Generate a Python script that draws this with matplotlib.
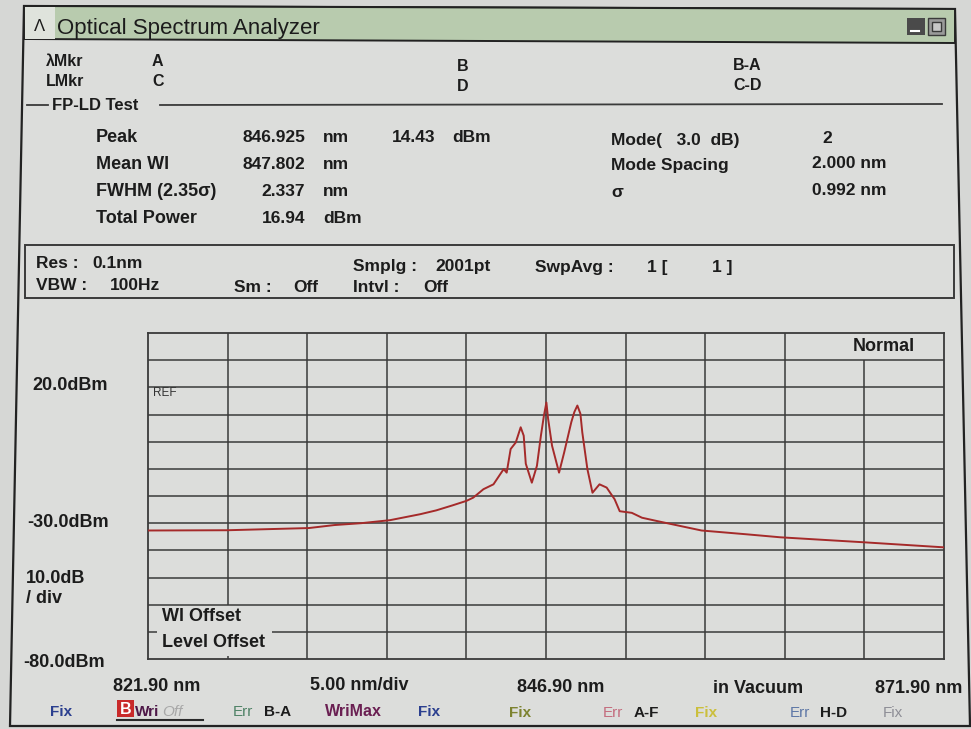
import numpy as np
import matplotlib.pyplot as plt
from matplotlib.patches import Polygon, Rectangle

plt.rcParams['font.family'] = ['Liberation Sans', 'DejaVu Sans']

# trace: wavelength (nm) / level (dBm)
wavelength = [821.9, 826.9, 832.0, 833.6, 835.3, 837.1, 839.0, 840.0, 841.0,
              841.9, 842.33, 842.97, 843.6, 844.24, 844.43, 844.68, 845.0,
              845.31, 845.5, 845.63, 846.01, 846.33, 846.58, 846.77, 846.925,
              847.03, 847.28, 847.72, 848.04, 848.49, 848.68, 848.87, 849.06,
              849.18, 849.5, 849.82, 850.26, 850.71, 851.21, 851.53, 852.29,
              852.93, 853.94, 856.67, 859.5, 861.62, 866.76, 871.9]
power = [-32.7, -32.6, -31.8, -30.7, -30.0, -28.9, -26.7, -25.3, -23.5,
         -21.8, -20.6, -17.5, -15.7, -10.1, -11.4, -2.7, -0.3,
         5.3, 2.2, -8.1, -15.1, -8.9, 2.2, 9.6, 14.43,
         8.5, -1.5, -11.4, -4.0, 7.2, 10.9, 13.3, 10.3,
         3.4, -10.1, -18.8, -15.7, -16.9, -21.2, -25.6, -26.2,
         -28.0, -29.3, -32.7, -34.1, -35.2, -37.0, -38.9]

x_start, x_stop, x_div = 821.9, 871.9, 5.0
y_bottom, y_top, y_div = -80.0, 40.0, 10.0

peak_labels = ["Peak", "Mean Wl", "FWHM (2.35\u03c3)", "Total Power"]
peak_values = ["846.925", "847.802", "2.337", "16.94"]
peak_units = ["nm", "nm", "nm", "dBm"]
mode_labels = ["Mode(   3.0  dB)", "Mode Spacing", "\u03c3"]
mode_values = ["2", "2.000 nm", "0.992 nm"]

BG = '#dcdddb'
INK = '#1c1c1c'
GRID = '#3a3a3a'

fig = plt.figure(figsize=(9.71, 7.29), dpi=100, facecolor='#d6d7d5')
bg = fig.add_axes([0, 0, 1, 1])
bg.set_xlim(0, 971)
bg.set_ylim(729, 0)
bg.axis('off')


def txt(x, y, s, size=13, weight='bold', color=INK, ha='left', **kw):
    bg.text(x, y, s, fontsize=size, fontweight=weight, color=color,
            ha=ha, va='baseline', **kw)


# window frame and title bar
bg.add_patch(Polygon([(24, 6), (955, 9), (970, 726), (10, 726)],
                     closed=True, facecolor=BG, edgecolor='#222222', lw=1.6))
bg.add_patch(Polygon([(24, 6), (955, 9), (955, 43), (24, 39)],
                     closed=True, facecolor='#b8cbae', edgecolor='#222222', lw=1.4))
bg.add_patch(Rectangle((25, 7), 30, 32, facecolor='#dfe3dc', lw=0))
bg.add_patch(Rectangle((907, 18), 18, 17, facecolor='#4a4a4a', lw=0))
bg.plot([911, 919], [31, 31], color='white', lw=1.5)
bg.add_patch(Rectangle((928, 18), 17, 17, facecolor='#9a9a9a', edgecolor='#3a3a3a', lw=1))
bg.add_patch(Rectangle((932, 22), 9, 9, facecolor='#c8c8c8', edgecolor='#3a3a3a', lw=1))
txt(34, 31, "\u039b", size=12, weight='normal')
txt(57, 34, "Optical Spectrum Analyzer", size=16, weight='normal')

# marker rows
txt(46, 66, "\u03bbMkr", size=11.5)
txt(46, 86, "LMkr", size=11.5)
txt(152, 66, "A", size=11.5)
txt(152, 86, "C", size=11.5)
txt(457, 71, "B", size=11.5)
txt(457, 91, "D", size=11.5)
txt(733, 70, "B-A", size=11.5)
txt(733, 90, "C-D", size=11.5)

# FP-LD test block
bg.plot([27, 48], [105, 105], color=GRID, lw=1.3)
bg.plot([160, 942], [105, 104], color=GRID, lw=1.3)
txt(52, 110, "FP-LD Test", size=12)
rows_y = [142, 169, 196, 223]
for yy, lab, val, unit in zip(rows_y, peak_labels, peak_values, peak_units):
    txt(96, yy, lab, size=13)
    txt(305, yy, val, size=12.5, ha='right')
    txt(323, yy, unit, size=12.5)
txt(435, 142, "14.43", size=12.5, ha='right')
txt(452, 142, "dBm", size=12.5)
for yy, lab in zip([145, 170, 197], mode_labels):
    txt(611, yy, lab, size=12.5)
txt(827, 143, mode_values[0], size=12.5, ha='center')
txt(887, 168, mode_values[1], size=12.5, ha='right')
txt(887, 195, mode_values[2], size=12.5, ha='right')

# settings box
bg.add_patch(Rectangle((25, 245), 929, 53, facecolor='none', edgecolor=GRID, lw=1.4))
txt(36, 268, "Res :", size=12.5)
txt(92, 268, "0.1nm", size=12.5)
txt(36, 290, "VBW :", size=12.5)
txt(110, 290, "100Hz", size=12.5)
txt(234, 292, "Sm :", size=12.5)
txt(293, 292, "Off", size=12.5)
txt(353, 271, "Smplg :", size=12.5)
txt(435, 271, "2001pt", size=12.5)
txt(353, 292, "Intvl :", size=12.5)
txt(423, 292, "Off", size=12.5)
txt(535, 272, "SwpAvg :", size=12.5)
txt(647, 272, "1 [", size=12.5)
txt(712, 272, "1 ]", size=12.5)

# level scale labels
txt(32, 390, "20.0dBm", size=13)
txt(27, 527, "-30.0dBm", size=13)
txt(26, 583, "10.0dB", size=13)
txt(26, 603, "/ div", size=13)
txt(23, 667, "-80.0dBm", size=13)

# wavelength scale labels
txt(113, 691, "821.90 nm", size=13)
txt(310, 690, "5.00 nm/div", size=13)
txt(517, 692, "846.90 nm", size=13)
txt(713, 693, "in Vacuum", size=13)
txt(875, 693, "871.90 nm", size=13)

# trace status row
txt(50, 716, "Fix", size=11, color='#2b3f8f')
bg.add_patch(Rectangle((117, 700), 17, 17, facecolor='#c92a2a', lw=0))
txt(125.5, 714, "B", size=11.5, color='white', ha='center')
txt(135, 716, "Wri", size=11, color='#4e1848')
txt(162, 716, "Off", size=11, weight='normal', color='#a8a8a8', style='italic')
bg.plot([117, 203], [720, 720], color='#2a2a2a', lw=1.5)
txt(233, 716, "Err", size=11, weight='normal', color='#4f8266')
txt(264, 716, "B-A", size=11)
txt(325, 716, "WriMax", size=11.5, color='#6a1f52')
txt(418, 716, "Fix", size=11, color='#2b3f8f')
txt(509, 717, "Fix", size=11, color='#7d8330')
txt(603, 717, "Err", size=11, weight='normal', color='#c46d7e')
txt(634, 717, "A-F", size=11)
txt(695, 717, "Fix", size=11, color='#cbbf3c')
txt(790, 717, "Err", size=11, weight='normal', color='#5e77a6')
txt(820, 717, "H-D", size=11)
txt(883, 717, "Fix", size=11, weight='normal', color='#8e8e96')

# spectrum plot
ax = fig.add_axes([148 / 971, 1 - 659 / 729, (944 - 148) / 971, (659 - 333) / 729])
ax.set_facecolor(BG)
ax.set_xlim(x_start, x_stop)
ax.set_ylim(y_bottom, y_top)
ax.set_xticks([])
ax.set_yticks([])
for sp in ax.spines.values():
    sp.set_color(GRID)
    sp.set_linewidth(1.3)

for i, x in enumerate(np.arange(x_start + x_div, x_stop - 1e-6, x_div)):
    if i == 8:      # cell behind "Normal"
        ax.vlines(x, y_bottom, y_top - y_div, color=GRID, lw=1.1)
    elif i == 0:    # cell behind the offset box
        ax.vlines(x, y_bottom, -78.9, color=GRID, lw=1.1)
        ax.vlines(x, -60, y_top, color=GRID, lw=1.1)
    else:
        ax.vlines(x, y_bottom, y_top, color=GRID, lw=1.1)
for y in np.arange(y_bottom + y_div, y_top - 1e-6, y_div):
    if abs(y + 70) < 1e-6:
        ax.hlines(y, x_start, 822.45, color=GRID, lw=1.1)
        ax.hlines(y, 829.7, x_stop, color=GRID, lw=1.1)
    else:
        ax.hlines(y, x_start, x_stop, color=GRID, lw=1.1)

ax.plot(wavelength, power, color='#a52a2a', lw=1.4, zorder=3)

ax.text(153, 396, "REF", transform=bg.transData, fontsize=8.5, color='#333333',
        va='baseline', clip_on=False)
ax.text(884, 351, "Normal", transform=bg.transData, fontsize=13, fontweight='bold',
        color=INK, ha='center', va='baseline', clip_on=False)
ax.text(162, 621, "Wl Offset", transform=bg.transData, fontsize=13, fontweight='bold',
        color=INK, va='baseline', clip_on=False)
ax.text(162, 647, "Level Offset", transform=bg.transData, fontsize=13, fontweight='bold',
        color=INK, va='baseline', clip_on=False)

fig.savefig('out.png', dpi=100, facecolor=fig.get_facecolor())
